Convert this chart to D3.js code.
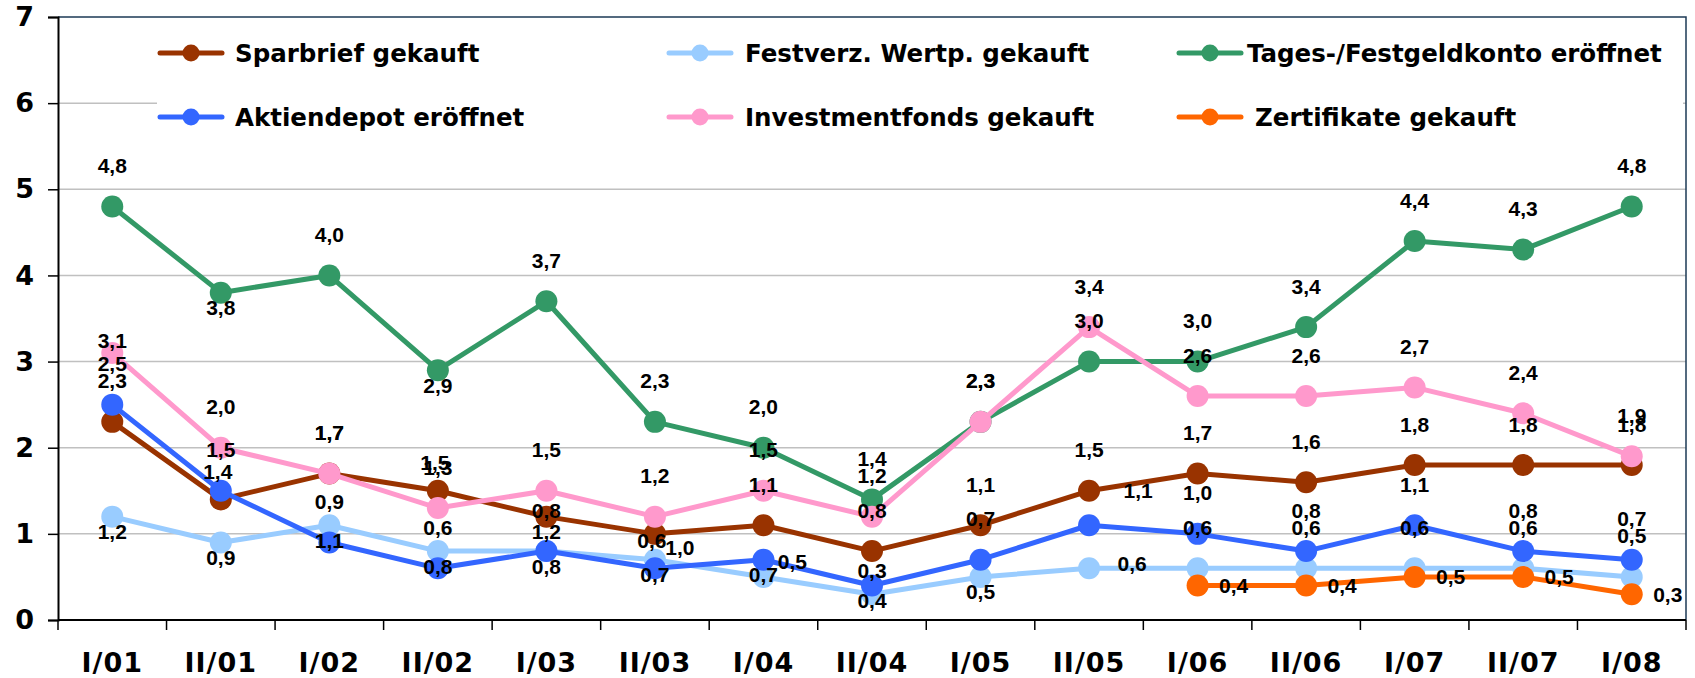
<!DOCTYPE html>
<html>
<head>
<meta charset="utf-8">
<script src="https://cdn.jsdelivr.net/npm/d3@7"></script>
<style>
  body { margin: 0; background: #fff; }
  svg { display: block; }
</style>
</head>
<body>
<div id="chart"></div>
<script>
// half-year periods
var categories = ["I/01", "II/01", "I/02", "II/02", "I/03", "II/03", "I/04", "II/04",
  "I/05", "II/05", "I/06", "II/06", "I/07", "II/07", "I/08"];

var sparbrief = [2.3, 1.4, 1.7, 1.5, 1.2, 1.0, 1.1, 0.8, 1.1, 1.5, 1.7, 1.6, 1.8, 1.8, 1.8];
var festverz  = [1.2, 0.9, 1.1, 0.8, 0.8, 0.7, 0.5, 0.3, 0.5, 0.6, 0.6, 0.6, 0.6, 0.6, 0.5];
var tagesgeld = [4.8, 3.8, 4.0, 2.9, 3.7, 2.3, 2.0, 1.4, 2.3, 3.0, 3.0, 3.4, 4.4, 4.3, 4.8];
var aktien    = [2.5, 1.5, 0.9, 0.6, 0.8, 0.6, 0.7, 0.4, 0.7, 1.1, 1.0, 0.8, 1.1, 0.8, 0.7];
var invest    = [3.1, 2.0, 1.7, 1.3, 1.5, 1.2, 1.5, 1.2, 2.3, 3.4, 2.6, 2.6, 2.7, 2.4, 1.9];
var zertif    = [null, null, null, null, null, null, null, null, null, null, 0.4, 0.4, 0.5, 0.5, 0.3];

var yTicks = [0, 1, 2, 3, 4, 5, 6, 7];

// series in drawing order (same order as legend, row by row)
var series = [
  { name: "Sparbrief gekauft", values: sparbrief, color: "#993300", lab: "amambsaaaaaaaaa" },
  { name: "Festverz. Wertp. gekauft", values: festverz, color: "#99ccff", lab: "bbbbbbtwbvaaaaa" },
  { name: "Tages-/Festgeldkonto eröffnet", values: tagesgeld, color: "#339966", lab: "ababaaaaaaaaaaa" },
  { name: "Aktiendepot eröffnet", values: aktien, color: "#3366ff", lab: "aaaaambbauaaaaa" },
  { name: "Investmentfonds gekauft", values: invest, color: "#ff99cc", lab: "haaaaaaaaaaaaaa" },
  { name: "Zertifikate gekauft", values: zertif, color: "#ff6600", lab: "----------rrrrr" }
];

// label placement codes -> [dx, dy] from the point
var labelShift = {
  a: [0, -41], b: [0, 15], m: [-3, -28], h: [0, -13], r: [36, 0],
  s: [25, 14], t: [29, -15], u: [49, -35], v: [43, -5], w: [0, -24]
};

var svgWidth = 1695;
var svgHeight = 678;
var margin = { top: 17, right: 9, bottom: 58, left: 58 };
var width = svgWidth - margin.left - margin.right;
var height = svgHeight - margin.top - margin.bottom;

var svg = d3.select("#chart")
  .append("svg")
  .attr("width", svgWidth)
  .attr("height", svgHeight);

var chartGroup = svg.append("g")
  .attr("transform", `translate(${margin.left}, ${margin.top})`);

var xScale = d3.scaleBand()
  .domain(categories)
  .range([0, width]);

var yScale = d3.scaleLinear()
  .domain([0, 7])
  .range([height, 0]);

var cx = d => xScale(d) + xScale.bandwidth() / 2;

// gridlines
chartGroup.append("g")
  .selectAll("line")
  .data(yTicks.filter(t => t > 0 && t < 7))
  .enter()
  .append("line")
  .attr("x1", 0)
  .attr("x2", width)
  .attr("y1", d => yScale(d))
  .attr("y2", d => yScale(d))
  .attr("stroke", "#c0c0c0")
  .attr("stroke-width", 1.5);

// top and right frame
chartGroup.append("path")
  .attr("d", `M0,${yScale(7)}H${width}V${height}`)
  .attr("fill", "none")
  .attr("stroke", "#1c3a56")
  .attr("stroke-width", 1.5);

// legend box (white, hides the grid)
chartGroup.append("rect")
  .attr("x", 157 - margin.left)
  .attr("y", 1)
  .attr("width", 1683 - 157)
  .attr("height", 130)
  .attr("fill", "#fff");

// y axis
var leftAxis = d3.axisLeft(yScale)
  .tickValues(yTicks)
  .tickSize(10)
  .tickPadding(14)
  .tickFormat(d3.format("d"));

var yAxis = chartGroup.append("g").call(leftAxis);
yAxis.select(".domain").attr("stroke", "#000").attr("stroke-width", 2);
yAxis.selectAll(".tick line").attr("stroke", "#000").attr("stroke-width", 1.5);
yAxis.selectAll("text")
  .attr("font-family", "'DejaVu Sans', Verdana, sans-serif")
  .attr("font-weight", "bold")
  .attr("font-size", 27)
  .attr("fill", "#000");

// x axis: ticks between categories
var xAxis = chartGroup.append("g")
  .attr("transform", `translate(0, ${height})`);

xAxis.append("line")
  .attr("x1", 0)
  .attr("x2", width)
  .attr("stroke", "#000")
  .attr("stroke-width", 2);

xAxis.selectAll(".xtick")
  .data(categories.concat(["end"]))
  .enter()
  .append("line")
  .attr("class", "xtick")
  .attr("x1", (d, i) => i * xScale.step())
  .attr("x2", (d, i) => i * xScale.step())
  .attr("y1", 0)
  .attr("y2", 10)
  .attr("stroke", "#000")
  .attr("stroke-width", 1.5);

xAxis.selectAll(".xlabel")
  .data(categories)
  .enter()
  .append("text")
  .attr("class", "xlabel")
  .attr("x", d => cx(d))
  .attr("y", 52)
  .attr("text-anchor", "middle")
  .attr("font-family", "'DejaVu Sans', Verdana, sans-serif")
  .attr("font-weight", "bold")
  .attr("font-size", 27)
  .attr("letter-spacing", 1)
  .text(d => d);

// lines and markers
var line = d3.line()
  .defined(d => d.v !== null)
  .x(d => cx(d.c))
  .y(d => yScale(d.v));

series.forEach(function(s) {
  var pts = categories.map((c, i) => ({ c: c, v: s.values[i] }));
  var g = chartGroup.append("g");
  g.append("path")
    .datum(pts)
    .attr("d", line)
    .attr("fill", "none")
    .attr("stroke", s.color)
    .attr("stroke-width", 5)
    .attr("stroke-linejoin", "round");
  g.selectAll("circle")
    .data(pts.filter(d => d.v !== null))
    .enter()
    .append("circle")
    .attr("cx", d => cx(d.c))
    .attr("cy", d => yScale(d.v))
    .attr("r", 11)
    .attr("fill", s.color);
});

// data labels on top
var fmt = v => d3.format(".1f")(v).replace(".", ",");
series.forEach(function(s) {
  var pts = categories.map((c, i) => ({ c: c, v: s.values[i], k: s.lab[i] }))
    .filter(d => d.v !== null && labelShift[d.k]);
  chartGroup.append("g")
    .selectAll("text")
    .data(pts)
    .enter()
    .append("text")
    .attr("x", d => cx(d.c) + labelShift[d.k][0])
    .attr("y", d => yScale(d.v) + labelShift[d.k][1])
    .attr("dy", "0.36em")
    .attr("text-anchor", "middle")
    .attr("font-family", "'Liberation Sans', Arial, sans-serif")
    .attr("font-weight", "bold")
    .attr("font-size", 21)
    .attr("fill", "#000")
    .text(d => fmt(d.v));
});

// legend: 3 columns, 2 rows
var legendCols = [160, 669, 1179];
var legendTextX = [235, 745, 1255];
var legendRows = [53, 117];

var legend = svg.append("g");
series.forEach(function(s, i) {
  var col = i % 3, row = Math.floor(i / 3);
  var lx = legendCols[col], ly = legendRows[row];
  legend.append("line")
    .attr("x1", lx)
    .attr("x2", lx + 62)
    .attr("y1", ly)
    .attr("y2", ly)
    .attr("stroke", s.color)
    .attr("stroke-width", 5)
    .attr("stroke-linecap", "round");
  legend.append("circle")
    .attr("cx", lx + 31)
    .attr("cy", ly)
    .attr("r", 8.5)
    .attr("fill", s.color);
  legend.append("text")
    .attr("x", i === 2 ? 1247 : legendTextX[col])
    .attr("y", ly)
    .attr("dy", "0.36em")
    .attr("font-family", "'DejaVu Sans', Verdana, sans-serif")
    .attr("font-weight", "bold")
    .attr("font-size", 24.5)
    .attr("fill", "#000")
    .text(s.name);
});
</script>
</body>
</html>
